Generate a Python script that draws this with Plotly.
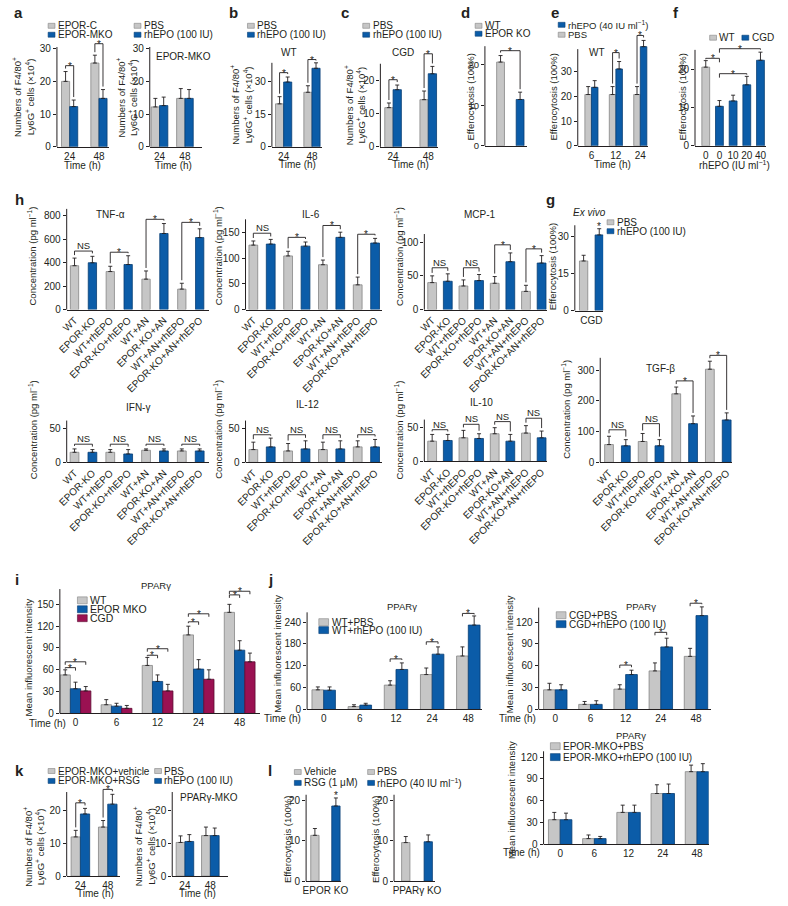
import plotly.graph_objects as go

W, H = 788, 906
FONT = "Liberation Sans, Arial, sans-serif"
INK = "#231f20"
GRAY, GRAY_EDGE = "#c6c6c6", "#858585"
BLUE, BLUE_EDGE = "#0b5ca8", "#073e74"
MAG, MAG_EDGE = "#9a1152", "#5c0a31"

# ---------------- data ----------------
hours = ["24", "48"]
a_epor_c, a_epor_c_err = [20.0, 25.6], [3.0, 2.4]
a_epor_mko, a_epor_mko_err = [12.3, 14.8], [2.0, 2.7]
a_sig = [24.8, 31.5]
a_mko_pbs, a_mko_pbs_err = [12.2, 14.8], [2.6, 3.0]
a_mko_epo, a_mko_epo_err = [12.6, 14.8], [2.6, 2.7]

b_pbs, b_pbs_err = [19.7, 25.0], [3.3, 3.0]
b_epo, b_epo_err = [29.7, 36.0], [2.3, 2.5]
b_sig = [34.0, 40.0]

c_pbs, c_pbs_err = [11.8, 14.2], [1.4, 2.6]
c_epo, c_epo_err = [17.2, 22.0], [1.4, 2.2]
c_sig = [20.2, 28.0]

d_vals, d_err = [20.6, 11.4], [1.6, 1.8]
d_sig = 23.4

e_hours = ["6", "12", "24"]
e_pbs, e_pbs_err = [20.7, 20.7, 20.7], [3.2, 3.2, 3.2]
e_epo, e_epo_err = [23.6, 31.0, 40.0], [2.7, 3.0, 2.5]
e_sig = [None, 37.6, 44.5]

f_doses = ["0", "0", "10", "20", "40"]
f_vals = [20.5, 10.3, 11.7, 15.9, 22.3]
f_err = [1.7, 1.5, 1.5, 2.2, 2.1]
f_sig = [(0, 1, 22.8), (1, 3, 18.8), (1, 4, 25.3)]

g_vals, g_err = [20.0, 30.5], [2.3, 2.5]

h_groups = ["WT", "EPOR-KO", "WT+rhEPO", "EPOR-KO+rhEPO", "WT+AN",
            "EPOR-KO+AN", "WT+AN+rhEPO", "EPOR-KO+AN+rhEPO"]
tnf = [375, 400, 325, 385, 260, 650, 175, 615]
tnf_err = [65, 55, 45, 75, 70, 85, 50, 75]
tnf_sig, tnf_lab = [500, 490, 771, 745], ["NS", "*", "*", "*"]
il6 = [125, 127, 104, 123, 87, 140, 48, 129]
il6_err = [8, 9, 9, 8, 9, 10, 15, 9]
il6_sig, il6_lab = [148, 140, 163, 146], ["NS", "*", "*", "*"]
mcp1 = [40, 42, 35, 43, 39, 71, 27, 69]
mcp1_err = [10, 11, 9, 9, 10, 13, 9, 11]
mcp1_sig, mcp1_lab = [62, 62, 96, 90], ["NS", "NS", "*", "*"]
ifng = [15, 15, 15, 12.5, 18, 17, 17, 17]
ifng_err = [5, 4, 4, 6.5, 2, 3, 3, 3]
ifng_sig, ifng_lab = [27, 27, 27, 27], ["NS", "NS", "NS", "NS"]
il12 = [19, 23, 17, 20, 19, 20, 23, 23]
il12_err = [11, 13, 11, 12, 11, 12, 9, 11]
il12_sig, il12_lab = [41, 41, 41, 41], ["NS", "NS", "NS", "NS"]
il10 = [30, 31, 35, 34, 41, 30, 42, 35]
il10_err = [10, 9, 11, 7, 9, 10, 11, 10]
il10_sig, il10_lab = [47, 55, 59, 64], ["NS", "NS", "NS", "NS"]
tgfb = [58, 54, 68, 54, 223, 126, 303, 138]
tgfb_err = [27, 20, 26, 20, 22, 25, 26, 23]
tgfb_sig, tgfb_lab = [106, 126, 265, 348], ["NS", "NS", "*", "*"]

ppar_hours = ["0", "6", "12", "24", "48"]
i_wt, i_wt_err = [53, 12, 66, 108, 139], [7, 7, 11, 12, 11]
i_mko, i_mko_err = [34, 10, 44, 61, 87], [9, 4, 9, 13, 13]
i_cgd, i_cgd_err = [31, 7, 31, 47, 71], [6, 4, 9, 13, 12]
i_sig_mko = [63, None, 80, 126, 163]
i_sig_cgd = [71, None, 89, 137, 168]

jw_pbs, jw_pbs_err = [54, 8, 67, 96, 147], [8, 5, 12, 18, 25]
jw_epo, jw_epo_err = [53, 12, 110, 152, 232], [9, 5, 18, 20, 25]
jw_sig = [None, None, 139, 186, 264]
jc_pbs, jc_pbs_err = [27, 7, 28, 53, 73], [9, 4, 6, 11, 11]
jc_epo, jc_epo_err = [27, 7, 48, 86, 129], [7, 5, 6, 12, 12]
jc_sig = [None, None, 61, 106, 146]
jm_pbs, jm_pbs_err = [34, 8, 44, 70, 100], [10, 5, 10, 12, 9]
jm_epo, jm_epo_err = [34, 8, 44, 70, 100], [9, 3, 10, 13, 11]

k_veh, k_veh_err = [12.0, 15.0], [2.0, 2.0]
k_rsg, k_rsg_err = [19.0, 22.0], [1.7, 3.0]
k_sig = [22.4, 26.5]
k_pbs, k_pbs_err = [10.3, 12.4], [2.0, 2.6]
k_epo, k_epo_err = [10.6, 12.4], [2.1, 2.3]

l_epor, l_epor_err = [11.4, 18.7], [1.7, 2.0]
l_ppar, l_ppar_err = [9.6, 9.8], [1.5, 1.7]

# ---------------- helpers ----------------
fig = go.Figure()
_count = [0]


def X(px):
    return px / W


def Y(py):
    return 1 - py / H


def note(x, y, text, size=9.5, xa="center", ya="middle", angle=0, color=INK):
    fig.add_annotation(x=X(x), y=Y(y), xref="paper", yref="paper", text=text,
                       showarrow=False, xanchor=xa, yanchor=ya, textangle=angle,
                       borderpad=0, font=dict(family=FONT, size=size, color=color))


def make_panel(left, right, zero, ppu, ytop, c0, step, bw, yticks, peak,
               xvals=None, xtext=None, angle=0, tsize=9.5):
    _count[0] += 1
    s = "" if _count[0] == 1 else str(_count[0])
    rtop = max(ytop, peak) * 1.03
    tf = dict(family=FONT, size=tsize, color=INK)
    fig.update_layout({
        "xaxis" + s: dict(domain=[X(left), X(right)], anchor="y" + s,
                          range=[(left - c0) / step, (right - c0) / step],
                          showline=True, linecolor=INK, linewidth=1, ticks="",
                          showgrid=False, zeroline=False, tickmode="array",
                          tickvals=xvals if xvals is not None else [],
                          ticktext=xtext if xtext is not None else [],
                          tickangle=angle, tickfont=tf, fixedrange=True),
        "yaxis" + s: dict(domain=[Y(zero), Y(zero - rtop * ppu)], anchor="x" + s,
                          range=[0, rtop], showline=False, ticks="outside",
                          ticklen=3, tickwidth=1, tickcolor=INK, tickmode="array",
                          tickvals=yticks, showgrid=False, zeroline=False,
                          tickfont=tf, fixedrange=True),
    })
    fig.add_shape(type="line", xref="paper", yref="paper", x0=X(left), x1=X(left),
                  y0=Y(zero), y1=Y(zero - ytop * ppu), line=dict(color=INK, width=1))
    return dict(s=s, zero=zero, ppu=ppu, c0=c0, step=step, w=bw / step)


def bars(p, y, err, color, edge, slot=0, nslot=1):
    w = p["w"]
    fig.add_trace(go.Bar(
        x=list(range(len(y))), y=y, width=w, offset=(slot - nslot / 2) * w,
        marker=dict(color=color, line=dict(color=edge, width=0.8)),
        error_y=dict(type="data", symmetric=False, array=err,
                     arrayminus=[0] * len(err), color=INK, thickness=0.9, width=2),
        xaxis="x" + p["s"], yaxis="y" + p["s"], showlegend=False, hoverinfo="skip"))


def cx(p, i, slot=0, nslot=1):
    w = p["w"]
    return p["c0"] + p["step"] * (i + (slot - nslot / 2) * w + w / 2)


def cy(p, v):
    return p["zero"] - v * p["ppu"]


def bracket(p, xa, xb, level, top_a, top_b, label, maxleg=99, gap=3, size=None):
    yl = cy(p, level)
    ya = max(yl + 1, min(cy(p, top_a) - gap, yl + maxleg))
    yb = max(yl + 1, min(cy(p, top_b) - gap, yl + maxleg))
    fig.add_shape(type="path", xref="paper", yref="paper",
                  path=f"M {X(xa)},{Y(ya)} L {X(xa)},{Y(yl)} L {X(xb)},{Y(yl)} L {X(xb)},{Y(yb)}",
                  line=dict(color=INK, width=0.9))
    mark((xa + xb) / 2, yl, label, size)


def mark(x, yl, label, size=None):
    if label == "*":
        note(x, yl + 0.5, "*", size=size or 10)
    else:
        note(x, yl - 5.5, label, size=size or 9.5)


def key(x, y, color, edge, text, w=7, h=5, size=10):
    fig.add_shape(type="rect", xref="paper", yref="paper", x0=X(x), x1=X(x + w),
                  y0=Y(y + h / 2), y1=Y(y - h / 2), fillcolor=color,
                  line=dict(color=edge, width=0.6))
    note(x + w + 2, y, text, size=size, xa="left")


def tops(v, e):
    return [a + b for a, b in zip(v, e)]


def pair_panel(p, g, ge, b, be, sig=None, maxleg=99):
    bars(p, g, ge, GRAY, GRAY_EDGE, 0, 2)
    bars(p, b, be, BLUE, BLUE_EDGE, 1, 2)
    if sig:
        tg, tb = tops(g, ge), tops(b, be)
        for i, lv in enumerate(sig):
            if lv is not None:
                bracket(p, cx(p, i, 0, 2), cx(p, i, 1, 2), lv, tg[i], tb[i], "*", maxleg)


NUM_T = "Numbers of F4/80<sup>+</sup><br>Ly6G<sup>+</sup> cells (×10<sup>4</sup>)"
EFF_T = "Efferocytosis (100%)"
CONC_T = "Concentration (pg ml<sup>−1</sup>)"
MFI_T = "Mean influorescent intensity"

# ---------------- a ----------------
note(2, 12, "<b>a</b>", size=15, xa="left")
p = make_panel(47, 100, 147, 3.3, 30.5, 60, 30, 8.3, [0, 10, 20, 30], 28, [0, 1], hours, tsize=10)
pair_panel(p, a_epor_c, a_epor_c_err, a_epor_mko, a_epor_mko_err, a_sig)
note(13, 97, NUM_T, size=9.5, angle=-90)
note(73, 166, "Time (h)", size=10)
key(38, 25, GRAY, GRAY_EDGE, "EPOR-C")
key(38, 34, BLUE, BLUE_EDGE, "EPOR-MKO")

p = make_panel(142, 195, 147, 3.3, 30.5, 152, 26, 8.5, [0, 10, 20, 30], 18, [0, 1], hours, tsize=10)
pair_panel(p, a_mko_pbs, a_mko_pbs_err, a_mko_epo, a_mko_epo_err)
note(119, 97, NUM_T, size=9.5, angle=-90)
note(166, 166, "Time (h)", size=10)
note(147, 56, "EPOR-MKO", size=10, xa="left")
key(126, 25, GRAY, GRAY_EDGE, "PBS")
key(126, 34, BLUE, BLUE_EDGE, "rhEPO (100 IU)")

# ---------------- b, c ----------------
note(222, 12, "<b>b</b>", size=15, xa="left")
p = make_panel(267, 318, 147, 2.2, 38.5, 279, 29, 8.3, [0, 15, 30], 38.5, [0, 1], hours, tsize=10)
pair_panel(p, b_pbs, b_pbs_err, b_epo, b_epo_err, b_sig)
note(236, 105, NUM_T, size=9.5, angle=-90)
note(293, 165, "Time (h)", size=10)
note(285, 52, "WT", size=10)
key(242, 25, GRAY, GRAY_EDGE, "PBS")
key(242, 34, BLUE, BLUE_EDGE, "rhEPO (100 IU)")

note(337, 12, "<b>c</b>", size=15, xa="left")
p = make_panel(378, 437, 147, 3.35, 25, 391, 36, 8.5, [0, 10, 20], 24.2, [0, 1], hours, tsize=10)
pair_panel(p, c_pbs, c_pbs_err, c_epo, c_epo_err, c_sig)
note(352, 105, NUM_T, size=9.5, angle=-90)
note(409, 165, "Time (h)", size=10)
note(401, 52, "CGD", size=10)
key(360, 25, GRAY, GRAY_EDGE, "PBS")
key(360, 34, BLUE, BLUE_EDGE, "rhEPO (100 IU)")

# ---------------- d ----------------
note(459, 12, "<b>d</b>", size=15, xa="left")
p = make_panel(485, 528, 146, 4.1, 24.5, 501, 20, 8, [0, 10, 20], 22.2)
bars(p, d_vals, d_err, [GRAY, BLUE], [GRAY_EDGE, BLUE_EDGE])
dt = tops(d_vals, d_err)
bracket(p, cx(p, 0), cx(p, 1), d_sig, dt[0], dt[1], "*")
note(470, 97, EFF_T, size=9.5, angle=-90)
key(475, 25, GRAY, GRAY_EDGE, "WT")
key(475, 33, BLUE, BLUE_EDGE, "EPOR KO")

# ---------------- e ----------------
note(552, 12, "<b>e</b>", size=15, xa="left")
p = make_panel(580, 652, 146, 2.5, 39, 594, 25, 6.7, [0, 10, 20, 30], 42.5, [0, 1, 2], e_hours, tsize=10)
pair_panel(p, e_pbs, e_pbs_err, e_epo, e_epo_err, e_sig)
note(555, 97, EFF_T, size=9.5, angle=-90)
note(616, 165, "Time (h)", size=10)
note(600, 52, "WT", size=10)
key(560, 24, BLUE, BLUE_EDGE, "rhEPO (40 IU ml<sup>−1</sup>)", size=9.5)
key(560, 34, GRAY, GRAY_EDGE, "PBS", size=9.5)

# ---------------- f ----------------
note(676, 12, "<b>f</b>", size=15, xa="left")
p = make_panel(700, 773, 146, 3.87, 25, 711, 14, 8, [0, 10, 20], 24.4,
               list(range(len(f_doses))), f_doses, tsize=10)
bars(p, f_vals, f_err, [GRAY] + [BLUE] * 4, [GRAY_EDGE] + [BLUE_EDGE] * 4)
ft = tops(f_vals, f_err)
for ia, ib, lv in f_sig:
    bracket(p, cx(p, ia), cx(p, ib), lv, ft[ia], ft[ib], "*", maxleg=4)
note(687, 97, EFF_T, size=9.5, angle=-90)
note(740, 165, "rhEPO (IU ml<sup>−1</sup>)", size=10)
key(715, 37, GRAY, GRAY_EDGE, "WT")
key(748, 37, BLUE, BLUE_EDGE, "CGD")

# ---------------- h ----------------
note(3, 200, "<b>h</b>", size=15, xa="left")
h_cols = [GRAY if i % 2 == 0 else BLUE for i in range(8)]
h_edges = [GRAY_EDGE if i % 2 == 0 else BLUE_EDGE for i in range(8)]
h_panels = [
    ("TNF-α", tnf, tnf_err, tnf_sig, tnf_lab, (57, 203, 311, 0.118, 860, 65, 18.3, 8.5), [0, 200, 400, 600, 800], (102, 215), (22, 257)),
    ("IL-6", il6, il6_err, il6_sig, il6_lab, (240, 380, 311, 0.52, 175, 248, 17.8, 9), [0, 50, 100, 150], (307, 215), (212, 257)),
    ("MCP-1", mcp1, mcp1_err, mcp1_sig, mcp1_lab, (423, 549, 311, 0.68, 112, 431, 16, 9), [0, 50, 100], (480, 215), (397, 257)),
    ("IFN-γ", ifng, ifng_err, ifng_sig, ifng_lab, (57, 203, 465, 0.68, 62, 65, 18.3, 9), [0, 50], (130, 410), (22, 432)),
    ("IL-12", il12, il12_err, il12_sig, il12_lab, (240, 380, 465, 0.68, 62, 248, 17.8, 9), [0, 50], (303, 407), (212, 432)),
    ("IL-10", il10, il10_err, il10_sig, il10_lab, (423, 549, 464, 0.68, 62, 431, 16, 9), [0, 50], (482, 405), (397, 432)),
    ("TGF-β", tgfb, tgfb_err, tgfb_sig, tgfb_lab, (603, 738, 465, 0.31, 340, 612, 17.2, 9), [0, 100, 200, 300], (665, 370), (568, 412)),
]
for title, v, e, sig, lab, geo, yt, tpos, ypos in h_panels:
    left, right, zero, ppu, ytop, c0, step, bw = geo
    p = make_panel(left, right, zero, ppu, ytop, c0, step, bw, yt, max(tops(v, e)),
                   list(range(8)), h_groups, angle=-45, tsize=10)
    bars(p, v, e, h_cols, h_edges)
    t = tops(v, e)
    for k in range(4):
        bracket(p, cx(p, 2 * k), cx(p, 2 * k + 1), sig[k], t[2 * k], t[2 * k + 1], lab[k])
    note(tpos[0], tpos[1], title, size=10)
    note(ypos[0], ypos[1], CONC_T, size=9.5, angle=-90)

# ---------------- g ----------------
note(546, 200, "<b>g</b>", size=15, xa="left")
p = make_panel(577, 606, 312, 2.5, 34.4, 586, 16, 8.5, [0, 15, 30], 33, [0.5], ["CGD"], tsize=10)
bars(p, g_vals, g_err, [GRAY, BLUE], [GRAY_EDGE, BLUE_EDGE])
mark(cx(p, 1), cy(p, g_vals[1] + g_err[1]) - 3, "*")
note(555, 268, EFF_T, size=9.5, angle=-90)
note(592, 213, "<i>Ex vivo</i>", size=10)
key(610, 223, GRAY, GRAY_EDGE, "PBS")
key(610, 232, BLUE, BLUE_EDGE, "rhEPO (100 IU)")

# ---------------- i ----------------
note(3, 583, "<b>i</b>", size=15, xa="left")
p = make_panel(50, 255, 718, 0.733, 171, 66, 42, 10.5, list(range(0, 151, 30)), 150,
               list(range(5)), ppar_hours, tsize=10)
bars(p, i_wt, i_wt_err, GRAY, GRAY_EDGE, 0, 3)
bars(p, i_mko, i_mko_err, BLUE, BLUE_EDGE, 1, 3)
bars(p, i_cgd, i_cgd_err, MAG, MAG_EDGE, 2, 3)
tw, tm, tc = tops(i_wt, i_wt_err), tops(i_mko, i_mko_err), tops(i_cgd, i_cgd_err)
for i in range(5):
    if i_sig_mko[i] is not None:
        bracket(p, cx(p, i, 0, 3), cx(p, i, 1, 3), i_sig_mko[i], tw[i], tm[i], "*", maxleg=3)
        bracket(p, cx(p, i, 0, 3), cx(p, i, 2, 3), i_sig_cgd[i], tw[i], tc[i], "*", maxleg=3)
note(18, 662, MFI_T, size=9.5, angle=-90)
note(57, 728, "Time (h)", size=10, xa="right")
note(148, 589, "PPARγ", size=9.5)
key(68, 604, GRAY, GRAY_EDGE, "WT", w=10, h=7, size=10.5)
key(68, 613, BLUE, BLUE_EDGE, "EPOR MKO", w=10, h=7, size=10.5)
key(68, 622, MAG, MAG_EDGE, "CGD", w=10, h=7, size=10.5)

# ---------------- j ----------------
note(262, 583, "<b>j</b>", size=15, xa="left")
p = make_panel(303, 482, 714, 0.3667, 267, 320, 37, 12, list(range(0, 241, 60)), 257,
               list(range(5)), ppar_hours, tsize=10)
pair_panel(p, jw_pbs, jw_pbs_err, jw_epo, jw_epo_err, jw_sig, maxleg=3)
note(273, 658, MFI_T, size=9.5, angle=-90)
note(298, 723, "Time (h)", size=10, xa="right")
note(400, 610, "PPARγ", size=9.5)
key(315, 626, GRAY, GRAY_EDGE, "WT+PBS", w=10, h=7)
key(315, 634, BLUE, BLUE_EDGE, "WT+rhEPO (100 IU)", w=10, h=7)

p = make_panel(540, 716, 714, 0.7333, 140, 557, 36, 12, list(range(0, 121, 30)), 141,
               list(range(5)), ppar_hours, tsize=10)
pair_panel(p, jc_pbs, jc_pbs_err, jc_epo, jc_epo_err, jc_sig, maxleg=3)
note(511, 658, MFI_T, size=9.5, angle=-90)
note(538, 723, "Time (h)", size=10, xa="right")
note(645, 610, "PPARγ", size=9.5)
key(558, 619, GRAY, GRAY_EDGE, "CGD+PBS", w=10, h=7)
key(558, 628, BLUE, BLUE_EDGE, "CGD+rhEPO (100 IU)", w=10, h=7)

p = make_panel(545, 714, 850, 0.7333, 128, 562, 35, 12, list(range(0, 121, 30)), 111,
               list(range(5)), ppar_hours, tsize=10)
pair_panel(p, jm_pbs, jm_pbs_err, jm_epo, jm_epo_err)
note(512, 805, MFI_T, size=9.5, angle=-90)
note(542, 858, "Time (h)", size=10, xa="right")
note(635, 740, "PPARγ", size=9.5)
key(552, 751, GRAY, GRAY_EDGE, "EPOR-MKO+PBS", w=10, h=7)
key(552, 762, BLUE, BLUE_EDGE, "EPOR-MKO+rhEPO (100 IU)", w=10, h=7)

# ---------------- k ----------------
note(3, 775, "<b>k</b>", size=15, xa="left")
p = make_panel(57, 112, 882, 3.3, 25.7, 71, 28, 9.5, [0, 10, 20], 25, [0, 1], hours, tsize=10)
pair_panel(p, k_veh, k_veh_err, k_rsg, k_rsg_err, k_sig)
note(24, 852, NUM_T, size=9.5, angle=-90)
note(86, 899, "Time (h)", size=10)
key(38, 776, GRAY, GRAY_EDGE, "EPOR-MKO+vehicle")
key(38, 786, BLUE, BLUE_EDGE, "EPOR-MKO+RSG")

p = make_panel(165, 222, 882, 3.3, 25.7, 178, 26, 9, [0, 10, 20], 15, [0, 1], hours, tsize=10)
pair_panel(p, k_pbs, k_pbs_err, k_epo, k_epo_err)
note(137, 852, NUM_T, size=9.5, angle=-90)
note(191, 899, "Time (h)", size=10)
note(172, 803, "PPARγ-MKO", size=10, xa="left")
key(147, 776, GRAY, GRAY_EDGE, "PBS")
key(147, 786, BLUE, BLUE_EDGE, "rhEPO (100 IU)")

# ---------------- l ----------------
note(262, 775, "<b>l</b>", size=15, xa="left")
p = make_panel(302, 338, 887, 4.05, 21.5, 311, 21.5, 8.5, [0, 10, 20], 20.7, [0.5], ["EPOR KO"], tsize=10)
bars(p, l_epor, l_epor_err, [GRAY, BLUE], [GRAY_EDGE, BLUE_EDGE])
mark(cx(p, 1), cy(p, l_epor[1] + l_epor_err[1]) - 3, "*")
note(283, 845, EFF_T, size=9.5, angle=-90)
p = make_panel(392, 434, 887, 4.05, 21.5, 404, 23, 8.5, [0, 10, 20], 11.5, [0.5], ["PPARγ KO"], tsize=10)
bars(p, l_ppar, l_ppar_err, [GRAY, BLUE], [GRAY_EDGE, BLUE_EDGE])
note(373, 845, EFF_T, size=9.5, angle=-90)
key(290, 777, GRAY, GRAY_EDGE, "Vehicle")
key(290, 788, BLUE, BLUE_EDGE, "RSG (1 μM)")
key(365, 777, GRAY, GRAY_EDGE, "PBS")
key(365, 788, BLUE, BLUE_EDGE, "rhEPO (40 IU ml<sup>−1</sup>)")

fig.update_layout(width=W, height=H, autosize=False, margin=dict(l=0, r=0, t=0, b=0),
                  paper_bgcolor="white", plot_bgcolor="white", barmode="overlay",
                  font=dict(family=FONT, color=INK), showlegend=False)
fig.write_html("out.html", config={"displayModeBar": False},
               post_script="document.body.style.margin='0px';document.body.style.overflow='hidden';")
